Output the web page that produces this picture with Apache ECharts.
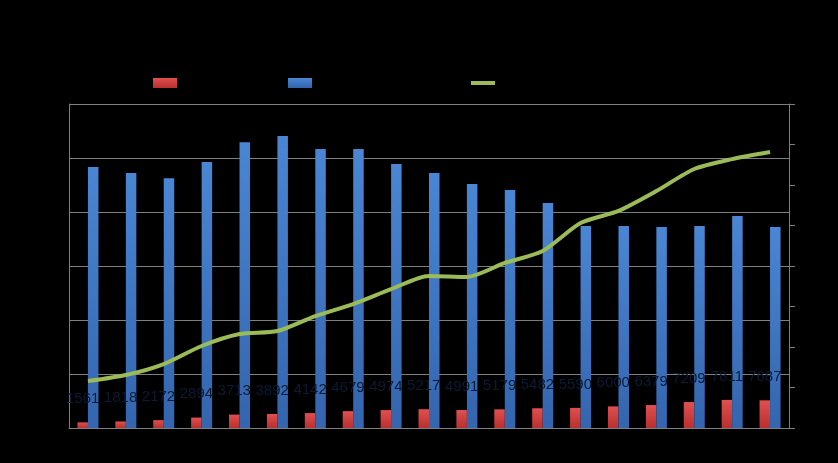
<!DOCTYPE html>
<html>
<head>
<meta charset="utf-8">
<script src="https://cdn.jsdelivr.net/npm/echarts@6/dist/echarts.min.js"></script>
<style>
html,body{margin:0;padding:0;background:#000;}
#c{width:838px;height:463px;}
</style>
</head>
<body>
<div id="c"></div>
<script>
const categories = ['1992','1993','1994','1995','1996','1997','1998','1999','2000','2001','2002','2003','2004','2005','2006','2007','2008','2009','2010'];
const seriesNames = ['招生人数（万人）', '高校在校学生总人数（人）', '毛入学率（%）'];
const redValues = [1561, 1818, 2172, 2894, 3713, 3892, 4142, 4679, 4974, 5217, 4991, 5179, 5482, 5590, 6000, 6379, 7209, 7811, 7687];
const blueValues = [72500, 70800, 69400, 73900, 79400, 81100, 77500, 77500, 73300, 70800, 67800, 66100, 62500, 56100, 56100, 55800, 56100, 58900, 55800];
const lineValues = [23.2, 26.2, 31.6, 40.5, 46.4, 47.9, 55.3, 61.2, 68.6, 75.1, 74.6, 81.5, 87.4, 101.2, 107.2, 117.0, 127.9, 132.8, 136.3];
const leftTicks = { min: 0, max: 90000, interval: 15000 };
const rightTicks = { min: 0, max: 160, interval: 20 };

const chart = echarts.init(document.getElementById('c'), null, { renderer: 'canvas' });
const grid = '#7f7f7f';
chart.setOption({
  backgroundColor: '#000',
  animation: false,
  legend: {
    top: 77,
    left: 153,
    padding: 0,
    itemWidth: 24,
    itemHeight: 10,
    itemGap: 10,
    textStyle: { color: '#000', fontSize: 12, fontFamily: 'Noto Sans CJK SC', lineHeight: 10 },
    data: [
      { name: seriesNames[0], icon: 'rect' },
      { name: seriesNames[1], icon: 'rect' },
      { name: seriesNames[2], icon: 'path://M0,0h24v0.01h-24zM0,3h24v4h-24zM0,9.99h24v0.01h-24z' }
    ]
  },
  grid: { left: 69, right: 49, top: 104, bottom: 35, containLabel: false, show: false },
  xAxis: {
    type: 'category',
    data: categories,
    axisLine: { show: true, lineStyle: { color: grid, width: 1 } },
    axisTick: { show: false },
    axisLabel: { color: '#000', fontSize: 12 }
  },
  yAxis: [
    {
      type: 'value', min: leftTicks.min, max: leftTicks.max, interval: leftTicks.interval,
      axisLine: { show: true, lineStyle: { color: grid } },
      axisTick: { show: false },
      axisLabel: { color: '#000', fontSize: 12 },
      splitLine: { show: true, lineStyle: { color: grid, width: 1 } }
    },
    {
      type: 'value', min: rightTicks.min, max: rightTicks.max, interval: rightTicks.interval,
      position: 'right',
      axisLine: { show: true, lineStyle: { color: grid } },
      axisTick: { show: true, length: 6, lineStyle: { color: grid } },
      axisLabel: { color: '#000', fontSize: 12 },
      splitLine: { show: false }
    }
  ],
  series: [
    {
      name: seriesNames[0], type: 'bar', yAxisIndex: 0, data: redValues,
      barWidth: 10.5, barGap: '0%',
      itemStyle: { color: new echarts.graphic.LinearGradient(0, 0, 0, 1, [
        { offset: 0, color: '#e0504f' }, { offset: 1, color: '#b8302f' }]) },
      label: { show: true, position: 'top', distance: 16, color: '#0c1a33', fontSize: 15,
               fontFamily: 'Liberation Sans' }
    },
    {
      name: seriesNames[1], type: 'bar', yAxisIndex: 0, data: blueValues,
      barWidth: 10.5, barGap: '0%',
      itemStyle: { color: new echarts.graphic.LinearGradient(0, 0, 0, 1, [
        { offset: 0, color: '#4a86d4' }, { offset: 1, color: '#3465ae' }]) }
    },
    {
      name: seriesNames[2], type: 'line', yAxisIndex: 1, data: lineValues,
      smooth: 0.25, symbol: 'none',
      lineStyle: { color: '#9bbb59', width: 4 },
      itemStyle: { color: '#9bbb59' },
      label: { show: true, position: 'top', distance: -6, color: '#000', fontSize: 14 },
      z: 5
    }
  ]
});
</script>
</body>
</html>
